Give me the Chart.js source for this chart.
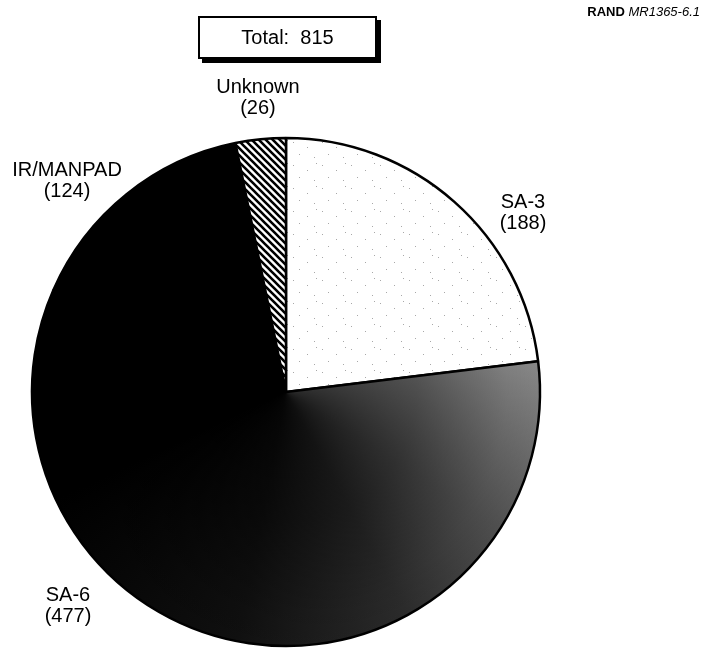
<!DOCTYPE html>
<html>
<head>
<meta charset="utf-8">
<script src="https://cdn.jsdelivr.net/npm/chart.js@4/dist/chart.umd.min.js"></script>
<style>
  html, body { margin: 0; padding: 0; background: #fff; }
  #wrap { position: relative; width: 702px; height: 656px; font-family: "Liberation Sans", Arial, sans-serif; color: #000; }
  #c { position: absolute; left: 0; top: 0; }
  .lbl { position: absolute; font-size: 20px; line-height: 21px; text-align: center; white-space: pre; transform: translateX(-50%); }
  #total { position: absolute; left: 198px; top: 16px; width: 175px; height: 39px; border: 2px solid #000; box-shadow: 4px 4px 0 #000; background: #fff; font-size: 20px; text-align: center; line-height: 39px; white-space: pre; }
  #rand { position: absolute; right: 2px; top: 4px; font-size: 13px; }
</style>
</head>
<body>
<div id="wrap">
  <canvas id="c" width="702" height="656"></canvas>
  <div id="total">Total:  815</div>
  <div id="rand"><b>RAND</b> <i>MR1365-6.1</i></div>
</div>
<script>
// ---- data ----
const categories = ["SA-3", "SA-6", "IR/MANPAD", "Unknown"];
const counts = [188, 477, 124, 26];
const totalLabel = "Total:  815";

// label anchor positions (annotation text only)
const labelPos = [[523, 191], [68, 584], [67, 159], [258, 76]];

const wrap = document.getElementById('wrap');
categories.forEach((c, i) => {
  const d = document.createElement('div');
  d.className = 'lbl';
  d.textContent = c + "\n(" + counts[i] + ")";
  d.style.left = labelPos[i][0] + 'px';
  d.style.top = labelPos[i][1] + 'px';
  wrap.appendChild(d);
});
document.getElementById('total').textContent = totalLabel;

// ---- fill patterns ----
function stipplePattern() {
  const w = 29, h = 23;
  const t = document.createElement('canvas');
  t.width = w; t.height = h;
  const g = t.getContext('2d');
  g.fillStyle = '#fff'; g.fillRect(0, 0, w, h);
  g.fillStyle = '#a8a8a8';
  [[3, 4], [17, 9], [9, 16], [24, 19], [26, 2]].forEach(p => g.fillRect(p[0], p[1], 1, 1));
  return g.createPattern(t, 'repeat');
}
function hatchPattern() {
  const s = 7;
  const t = document.createElement('canvas');
  t.width = s; t.height = s;
  const g = t.getContext('2d');
  g.fillStyle = '#fff'; g.fillRect(0, 0, s, s);
  g.strokeStyle = '#000'; g.lineWidth = 2.6;
  g.beginPath();
  g.moveTo(-s, 0); g.lineTo(2 * s, 3 * s);
  g.moveTo(-s, -s); g.lineTo(2 * s, 2 * s);
  g.moveTo(-2 * s, -s); g.lineTo(s, 2 * s);
  g.moveTo(0, -s); g.lineTo(3 * s, 2 * s);
  g.stroke();
  return g.createPattern(t, 'repeat');
}
let sa6Cache = null;
function sa6Fill(chart) {
  const area = chart.chartArea;
  if (!area) return '#333';
  const key = area.left + ',' + area.top + ',' + area.right + ',' + area.bottom;
  if (sa6Cache && sa6Cache.key === key) return sa6Cache.pat;
  const cx = (area.left + area.right) / 2, cy = (area.top + area.bottom) / 2;
  const r = Math.min(area.right - area.left, area.bottom - area.top) / 2;
  const W = chart.width, H = chart.height;
  const off = document.createElement('canvas');
  off.width = W; off.height = H;
  const g = off.getContext('2d');
  const sum = counts.reduce((a, b) => a + b, 0);
  const start = -Math.PI / 2 + counts[0] / sum * 2 * Math.PI;
  const cg = g.createConicGradient(start, cx, cy);
  cg.addColorStop(0, '#8a8a8a');
  cg.addColorStop(0.05, '#707070');
  cg.addColorStop(0.11, '#505050');
  cg.addColorStop(0.19, '#2c2c2c');
  cg.addColorStop(0.30, '#101010');
  cg.addColorStop(0.45, '#000');
  cg.addColorStop(1, '#000');
  g.fillStyle = cg;
  g.fillRect(0, 0, W, H);
  const rg = g.createRadialGradient(cx, cy, 0, cx, cy, r);
  rg.addColorStop(0, 'rgba(0,0,0,0.7)');
  rg.addColorStop(0.5, 'rgba(0,0,0,0.4)');
  rg.addColorStop(0.85, 'rgba(0,0,0,0.08)');
  rg.addColorStop(1, 'rgba(0,0,0,0)');
  g.fillStyle = rg;
  g.fillRect(0, 0, W, H);
  const pat = chart.ctx.createPattern(off, 'no-repeat');
  sa6Cache = { key, pat };
  return pat;
}
const stip = stipplePattern();
const hatch = hatchPattern();

new Chart(document.getElementById('c'), {
  type: 'pie',
  data: {
    labels: categories,
    datasets: [{
      data: counts,
      backgroundColor: (ctx) => {
        const i = ctx.dataIndex;
        if (i === 0) return stip;
        if (i === 1) return sa6Fill(ctx.chart);
        if (i === 2) return '#000';
        return hatch;
      },
      borderColor: '#000',
      borderWidth: 2.5,
      radius: 254
    }]
  },
  options: {
    responsive: false,
    animation: false,
    events: [],
    layout: { padding: { left: 26, right: 156, top: 132, bottom: 4 } },
    plugins: { legend: { display: false }, tooltip: { enabled: false }, title: { display: false } }
  }
});
</script>
</body>
</html>
